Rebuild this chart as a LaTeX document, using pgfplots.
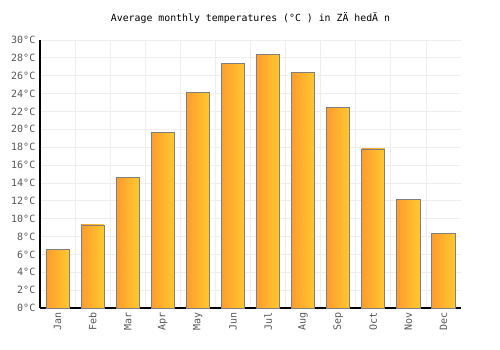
\documentclass[border=0pt]{standalone}
\usepackage{pgfplots}
\pgfplotsset{compat=1.18}
\usepackage{fontspec}
\setmainfont{DejaVu Sans Mono}
\definecolor{gridc}{HTML}{EEEEEE}
\definecolor{tickc}{HTML}{555555}
\definecolor{barL}{HTML}{FF9C2E}
\definecolor{barR}{HTML}{FFC92E}
\definecolor{edgec}{HTML}{7F7F7F}
\pgfplotsset{tbar/.style={ybar, bar shift=0pt, bar width=0.66, draw=edgec, line width=0.6pt, left color=barL, right color=barR}}
\begin{document}
\begin{tikzpicture}[x=1pt,y=1pt]
\begin{axis}[
  scale only axis,
  width=315.75pt, height=201pt,
  xmin=-0.5, xmax=11.5,
  ymin=0, ymax=30,
  axis x line*=bottom, axis y line*=left,
  axis line style={black, line width=0.9pt},
  xtick={0,1,2,3,4,5,6,7,8,9,10,11},
  xticklabels={Jan,Feb,Mar,Apr,May,Jun,Jul,Aug,Sep,Oct,Nov,Dec},
  xticklabel style={rotate=90, anchor=east, font=\fontsize{7.5}{9}\selectfont, text=tickc},
  ytick={0,2,...,30},
  yticklabel={\pgfmathprintnumber{\tick}°C},
  yticklabel style={font=\fontsize{7.5}{9}\selectfont, text=tickc},
  /pgf/number format/assume math mode=true,
  grid=both,
  minor x tick num=1,
  xtick style={draw=none},
  ytick style={draw=none},
  minor tick style={draw=none},
  major grid style={gridc, line width=0.6pt},
  minor grid style={gridc, line width=0.6pt},
  xmajorgrids=false,
  title={Average monthly temperatures (°C ) in ZÄ hedÄ n},
  title style={font=\fontsize{7.4}{8.5}\selectfont, yshift=2.5pt},
  clip=false,
]
\addplot[tbar] coordinates {(0,6.6)};
\addplot[tbar] coordinates {(1,9.3)};
\addplot[tbar] coordinates {(2,14.6)};
\addplot[tbar] coordinates {(3,19.7)};
\addplot[tbar] coordinates {(4,24.1)};
\addplot[tbar] coordinates {(5,27.4)};
\addplot[tbar] coordinates {(6,28.4)};
\addplot[tbar] coordinates {(7,26.4)};
\addplot[tbar] coordinates {(8,22.4)};
\addplot[tbar] coordinates {(9,17.8)};
\addplot[tbar] coordinates {(10,12.2)};
\addplot[tbar] coordinates {(11,8.3)};
\coordinate (O) at (rel axis cs:0,0);
\end{axis}
\path (O) ++(-30pt,-31.5pt) rectangle ++(375pt,262.5pt);
\end{tikzpicture}
\end{document}
